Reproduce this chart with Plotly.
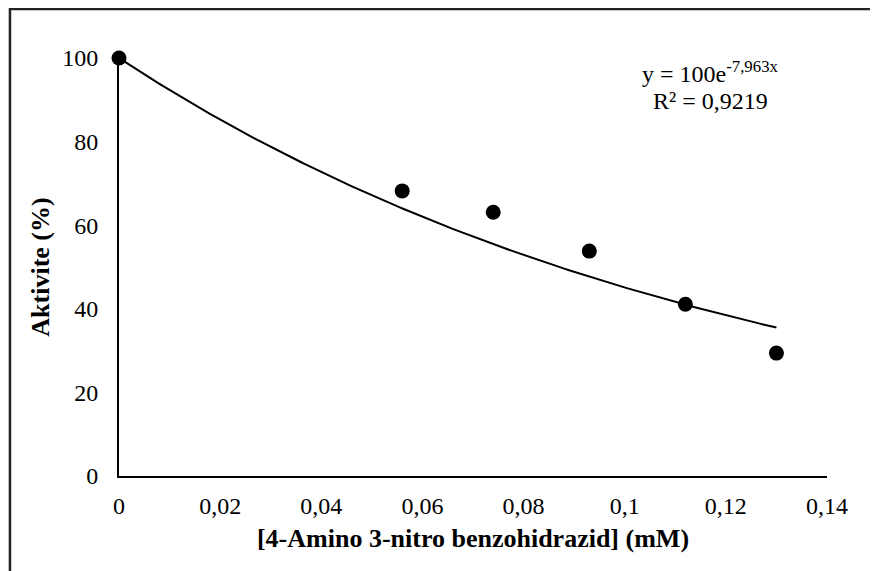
import numpy as np
import plotly.graph_objects as go

# Data
concentration_mM = [0, 0.056, 0.074, 0.093, 0.112, 0.130]
activity_pct = [100, 68.2, 63.1, 53.8, 41.1, 29.4]

# Exponential trendline shown on the chart: y = 100 e^(-7.963 x)
trend_a = 100.0
trend_b = -7.963
trend_x = np.linspace(0, max(concentration_mM), 200)
trend_y = trend_a * np.exp(trend_b * trend_x)

x_ticks = [0, 0.02, 0.04, 0.06, 0.08, 0.1, 0.12, 0.14]
x_tick_labels = ["0", "0,02", "0,04", "0,06", "0,08", "0,1", "0,12", "0,14"]
y_ticks = [0, 20, 40, 60, 80, 100]

FONT = "Liberation Serif, Times New Roman, serif"

fig = go.Figure()
fig.add_trace(go.Scatter(x=trend_x, y=trend_y, mode="lines",
                         line=dict(color="black", width=2), hoverinfo="skip",
                         showlegend=False, cliponaxis=False))
fig.add_trace(go.Scatter(x=concentration_mM, y=activity_pct, mode="markers",
                         marker=dict(color="black", size=15),
                         showlegend=False, cliponaxis=False))

fig.update_layout(
    width=878, height=571,
    margin=dict(l=111, r=59, t=50, b=103),
    paper_bgcolor="white", plot_bgcolor="white",
    font=dict(family=FONT, size=24, color="black"),
    xaxis=dict(range=[0, 0.14], tickvals=x_ticks, ticktext=x_tick_labels,
               showgrid=False, zeroline=False, showline=True,
               linecolor="black", linewidth=2, ticks="", ticklen=0,
               ticklabelstandoff=7,
               tickfont=dict(size=24),
               title=dict(text="<b>[4-Amino 3-nitro benzohidrazid] (mM)</b>",
                          font=dict(size=26), standoff=11)),
    yaxis=dict(range=[0, 100], tickvals=y_ticks,
               showgrid=False, zeroline=False, showline=True,
               linecolor="black", linewidth=2, ticks="", ticklen=0,
               ticklabelstandoff=14,
               tickfont=dict(size=24),
               title=dict(text="<b>Aktivite (%)</b>", font=dict(size=26),
                          standoff=5)),
    annotations=[
        dict(x=0.836, y=0.967, xref="paper", yref="paper",
             text="y = 100e<sup>-7,963x</sup>", showarrow=False,
             font=dict(size=24), xanchor="center", yanchor="middle"),
        dict(x=0.836, y=0.897, xref="paper", yref="paper",
             text="R² = 0,9219", showarrow=False,
             font=dict(size=24), xanchor="center", yanchor="middle"),
    ],
    shapes=[dict(type="rect", xref="paper", yref="paper",
                 x0=-0.154, y0=-0.3, x1=1.2, y1=1.117,
                 line=dict(color="#222222", width=2.5))],
)

fig.write_html("out.html")
